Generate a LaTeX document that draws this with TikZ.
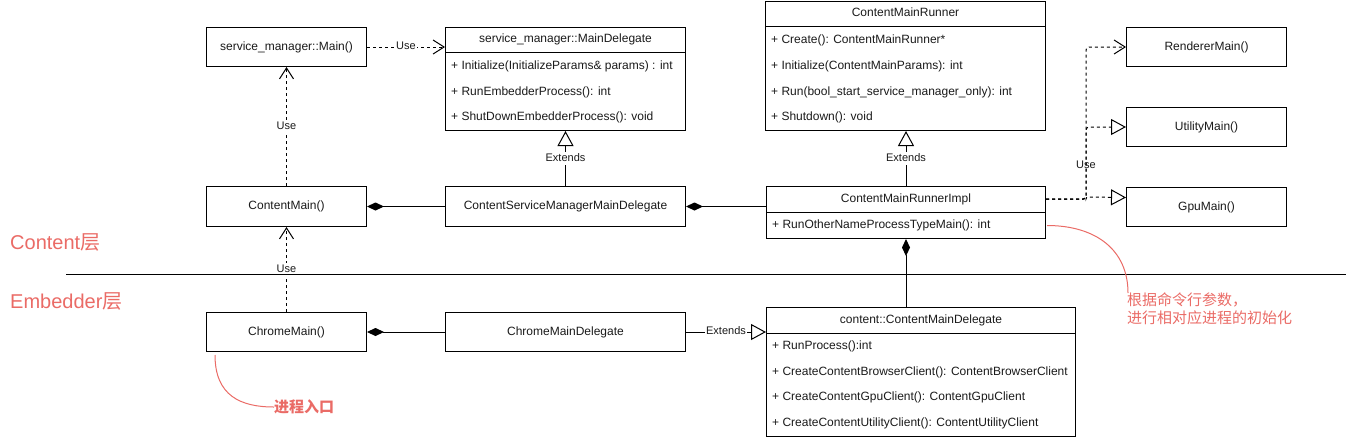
\documentclass[tikz,border=0pt]{standalone}
\usepackage{fontspec}
\setmainfont{Liberation Sans}
\newfontfamily\cjk{Noto Sans CJK SC}
\usetikzlibrary{arrows.meta,calc}
\definecolor{redann}{HTML}{EA6B66}
\definecolor{ink}{HTML}{1A1A1A}
\begin{document}
\begin{tikzpicture}[x=1pt,y=-1pt,
  box/.style={draw=black, line width=1pt, inner sep=0pt, font=\fontsize{12}{14}\selectfont, text=ink},
  row/.style={anchor=west, inner sep=0pt, text height=9pt, text depth=3pt, font=\fontsize{12}{14}\selectfont, text=ink},
  lbl/.style={inner sep=1pt, fill=white, text height=8pt, text depth=2.5pt, font=\fontsize{11}{13}\selectfont, text=ink},
  sepline/.style={draw=black, line width=1pt},
  usearrow/.style={draw=black, line width=1pt, dash pattern=on 3pt off 3pt, -{Straight Barb[length=11pt,width=14pt]}},
  realize/.style={draw=black, line width=1pt, dash pattern=on 3pt off 3pt, -{Triangle[length=15pt,width=16pt,fill=white]}},
  extarrow/.style={draw=black, line width=1pt, -{Triangle[length=15pt,width=16pt,fill=white]}},
  comp/.style={draw=black, line width=1pt, {Diamond[length=17pt,width=8pt]}-},
  redtxt/.style={inner sep=0pt, text=redann, font=\fontsize{20}{24}\selectfont},
  redline/.style={draw=redann, line width=1pt}
]
\useasboundingbox (0,0) rectangle (1346,440);

% ---------- top row ----------
\node[box, anchor=north west, minimum width=160pt, minimum height=39pt] (smmain) at (206,27) {service\_manager::Main()};

\node[box, anchor=north west, minimum width=240pt, minimum height=103pt] (mdel) at (445,27) {};
\draw[sepline] ($(mdel.north west)+(0,25)$) -- ($(mdel.north east)+(0,25)$);
\node[row, anchor=center] (mdelt) at ($(mdel.north)+(0,12.5)$) {service\_manager::MainDelegate};
\node[row] (mdel1) at (451,66) {+ Initialize(InitializeParams\& params) : int};
\node[row] (mdel2) at (451,92) {+ RunEmbedderProcess(): int};
\node[row] (mdel3) at (451,117) {+ ShutDownEmbedderProcess(): void};

\node[box, anchor=north west, minimum width=280pt, minimum height=129pt] (crun) at (765,1) {};
\draw[sepline] ($(crun.north west)+(0,25)$) -- ($(crun.north east)+(0,25)$);
\node[row, anchor=center] (crunt) at ($(crun.north)+(0,12.5)$) {ContentMainRunner};
\node[row] (crun1) at (771,40) {+ Create(): ContentMainRunner*};
\node[row] (crun2) at (771,66) {+ Initialize(ContentMainParams): int};
\node[row] (crun3) at (771,92) {+ Run(bool\_start\_service\_manager\_only): int};
\node[row] (crun4) at (771,117) {+ Shutdown(): void};

\node[box, anchor=north west, minimum width=160pt, minimum height=39pt] (renderer) at (1126,27) {RendererMain()};
\node[box, anchor=north west, minimum width=160pt, minimum height=39pt] (utility) at (1126,107) {UtilityMain()};
\node[box, anchor=north west, minimum width=160pt, minimum height=39pt] (gpu) at (1126,187) {GpuMain()};

% ---------- middle row ----------
\node[box, anchor=north west, minimum width=160pt, minimum height=40pt] (cmain) at (206,186) {ContentMain()};
\node[box, anchor=north west, minimum width=240pt, minimum height=40pt] (cdel) at (445,186) {ContentServiceManagerMainDelegate};

\node[box, anchor=north west, minimum width=279pt, minimum height=52pt] (impl) at (766,186) {};
\draw[sepline] ($(impl.north west)+(0,26)$) -- ($(impl.north east)+(0,26)$);
\node[row, anchor=center] (implt) at ($(impl.north)+(0,13)$) {ContentMainRunnerImpl};
\node[row] (impl1) at (772,225) {+ RunOtherNameProcessTypeMain(): int};

% ---------- bottom row ----------
\node[box, anchor=north west, minimum width=160pt, minimum height=39pt] (chromemain) at (206,312) {ChromeMain()};
\node[box, anchor=north west, minimum width=240pt, minimum height=39pt] (chromedel) at (445,312) {ChromeMainDelegate};

\node[box, anchor=north west, minimum width=309pt, minimum height=129pt] (cmd) at (766,307) {};
\draw[sepline] ($(cmd.north west)+(0,26)$) -- ($(cmd.north east)+(0,26)$);
\node[row, anchor=center] (cmdt) at ($(cmd.north)+(0,13)$) {content::ContentMainDelegate};
\node[row] (cmd1) at (772,346) {+ RunProcess():int};
\node[row] (cmd2) at (772,372) {+ CreateContentBrowserClient(): ContentBrowserClient};
\node[row] (cmd3) at (772,397) {+ CreateContentGpuClient(): ContentGpuClient};
\node[row] (cmd4) at (772,423) {+ CreateContentUtilityClient(): ContentUtilityClient};

% ---------- connectors ----------
\draw[usearrow] (smmain.east) -- (smmain.east -| mdel.west) node[lbl, midway] {Use};
\draw[usearrow] (cmain.north) -- (smmain.south) node[lbl, midway] {Use};
\draw[usearrow] (chromemain.north) -- (cmain.south) node[lbl, midway] {Use};

\draw[extarrow] (cdel.north) -- (cdel.north |- mdel.south) node[lbl, midway] {Extends};
\draw[extarrow] (impl.north) -- (impl.north |- crun.south) node[lbl, midway] {Extends};
\draw[extarrow] (chromedel.east) -- (chromedel.east -| cmd.west) node[lbl, midway] {Extends};

\draw[comp] (cmain.east) -- (cdel.west);
\draw[comp] (cdel.east) -- (cdel.east -| impl.west);
\draw[comp] (impl.south) -- (impl.south |- cmd.north);
\draw[comp] (chromemain.east) -- (chromedel.west);

\coordinate (implh) at ($(impl.north east)+(0,13)$);
\draw[usearrow, rounded corners=3pt] (implh) -- ++(40,0) |- (renderer.west);
\draw[realize, rounded corners=3pt] (implh) -- ++(40,0) |- (utility.west);
\draw[realize, rounded corners=2pt] (implh) -- ++(40,0) -- ++(0,-2) -- ($(gpu.west)+(0,-9.5)$);
\node[lbl, fill=none] (uselbl) at (1086,166) {Use};

% ---------- layer separator ----------
\coordinate (sepL) at (66,274);
\coordinate (sepR) at (1346,274);
\draw[sepline] (sepL) -- (sepR);

% ---------- annotations ----------
\node[redtxt, anchor=west] (lc) at (10,242) {Content{\cjk 层}};
\node[redtxt, anchor=west] (le) at (10,301) {Embedder{\cjk 层}};
\node[anchor=west, inner sep=0pt, text=redann, font=\cjk\bfseries\fontsize{15}{18}\selectfont] (entry) at (274,407) {进程入口};
\node[anchor=north west, align=left, inner sep=0pt, text=redann, font=\cjk\fontsize{15}{18}\selectfont] (note) at (1127,293) {根据命令行参数，\\进行相对应进程的初始化};

\coordinate (c1s) at ($(chromemain.south west)+(9,3)$);
\draw[redline] (c1s) .. controls ($(c1s)+(0,41)$) and ($(entry.west)+(-33,0)$) .. (entry.west);
\coordinate (c2s) at ($(impl.east)+(1,13)$);
\draw[redline] (c2s) .. controls ($(c2s)+(49,0)$) and ($(note.north west)+(1,-43)$) .. ($(note.north west)+(1,0)$);
\end{tikzpicture}
\end{document}
